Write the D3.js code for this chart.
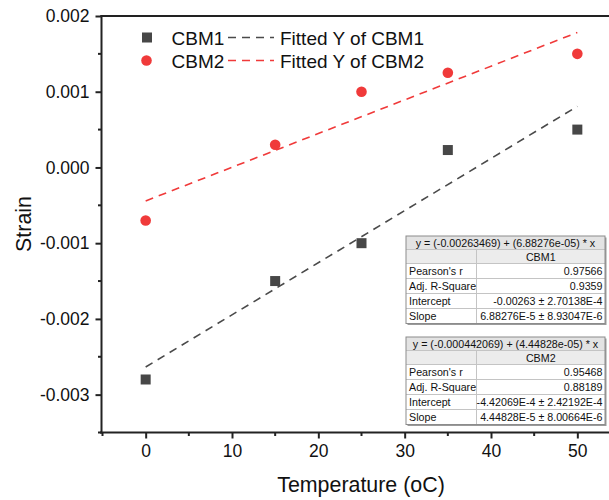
<!DOCTYPE html>
<html>
<head>
<meta charset="utf-8">
<script src="https://cdn.jsdelivr.net/npm/d3@7"></script>
<style>
  html, body { margin: 0; padding: 0; background: #fff; }
  svg { display: block; font-family: "Liberation Sans", Arial, sans-serif; }
</style>
</head>
<body>
<svg id="chart" width="609" height="500"></svg>
<script>
// ---- data ----
const temperatures = [0, 15, 25, 35, 50];
const cbm1Strain = [-0.0028, -0.0015, -0.0010, 0.00023, 0.0005];
const cbm2Strain = [-0.0007, 0.0003, 0.0010, 0.00125, 0.0015];
const seriesNames = ["CBM1", "CBM2"];
const fitIntercepts = [-0.00263469, -0.000442069];
const fitSlopes = [6.88276e-05, 4.44828e-05];
const fitRange = [0, 50];
const fitEquations = ["y = (-0.00263469) + (6.88276e-05) * x", "y = (-0.000442069) + (4.44828e-05) * x"];
const statLabels = ["Pearson's r", "Adj. R-Square", "Intercept", "Slope"];
const cbm1Stats = ["0.97566", "0.9359", "-0.00263 \u00b1 2.70138E-4", "6.88276E-5 \u00b1 8.93047E-6"];
const cbm2Stats = ["0.95468", "0.88189", "-4.42069E-4 \u00b1 2.42192E-4", "4.44828E-5 \u00b1 8.00664E-6"];
const xTicks = [0, 10, 20, 30, 40, 50];
const yTicks = [-0.003, -0.002, -0.001, 0.000, 0.001, 0.002];
const yTickLabels = ["-0.003", "-0.002", "-0.001", "0.000", "0.001", "0.002"];

// ---- styles ----
const colors = ["#474747", "#f03a3a"];
const fitColors = ["#4a4a4a", "#f03a3a"];

const svg = d3.select("#chart");
const x = d3.scaleLinear().domain([-5, 55]).range([102.5, 620.5]);
const y = d3.scaleLinear().domain([-0.0035, 0.002]).range([432.5, 16]);

// axes
const xMinor = d3.range(-5, 56, 5).filter(v => v % 10 !== 0);
const yMinor = d3.range(-0.0035, 0.00201, 0.0005).map(v => +v.toFixed(4)).filter(v => Math.abs(Math.round(v * 1000) - v * 1000) > 1e-6);

const gx = svg.append("g").attr("transform", "translate(0,432.5)");
gx.call(d3.axisBottom(x).tickValues(xTicks).tickSize(6).tickSizeOuter(0).tickFormat(d3.format("d")));
gx.select(".domain").attr("stroke", "#222").attr("stroke-width", 2).attr("d", "M100,0H609");
gx.selectAll(".tick line").attr("stroke", "#222").attr("stroke-width", 2);
gx.selectAll(".tick text").attr("font-size", 17.5).attr("fill", "#111").attr("y", 12).attr("dy", "0.71em").attr("font-family", "Liberation Sans, Arial, sans-serif");
gx.selectAll(".minor").data(xMinor).enter().append("line")
  .attr("x1", d => x(d)).attr("x2", d => x(d)).attr("y1", 0).attr("y2", 3.5)
  .attr("stroke", "#222").attr("stroke-width", 2);

const gy = svg.append("g").attr("transform", "translate(101.5,0)");
gy.call(d3.axisLeft(y).tickValues(yTicks).tickSize(6).tickSizeOuter(0).tickFormat((d, i) => yTickLabels[i]));
gy.select(".domain").attr("stroke", "#222").attr("stroke-width", 2).attr("d", "M0,15V433.5");
gy.selectAll(".tick line").attr("stroke", "#222").attr("stroke-width", 2);
gy.selectAll(".tick text").attr("font-size", 17.5).attr("fill", "#111").attr("x", -12).attr("font-family", "Liberation Sans, Arial, sans-serif");
gy.selectAll(".minor").data(yMinor).enter().append("line")
  .attr("x1", 0).attr("x2", -3.5).attr("y1", d => y(d)).attr("y2", d => y(d))
  .attr("stroke", "#222").attr("stroke-width", 2);

// top frame line
svg.append("line").attr("x1", 100.5).attr("x2", 609).attr("y1", y(0.002)).attr("y2", y(0.002))
  .attr("stroke", "#222").attr("stroke-width", 2);

// axis titles
svg.append("text").attr("x", 361).attr("y", 492).attr("text-anchor", "middle")
  .attr("font-size", 21.4).attr("fill", "#111").text("Temperature (oC)");
svg.append("text").attr("transform", "translate(31,224) rotate(-90)").attr("text-anchor", "middle")
  .attr("font-size", 21.4).attr("fill", "#111").text("Strain");

// fit lines
const seriesData = [cbm1Strain, cbm2Strain];
seriesNames.forEach((name, i) => {
  svg.append("line")
    .attr("x1", x(fitRange[0])).attr("y1", y(fitIntercepts[i] + fitSlopes[i] * fitRange[0]))
    .attr("x2", x(fitRange[1])).attr("y2", y(fitIntercepts[i] + fitSlopes[i] * fitRange[1]))
    .attr("stroke", fitColors[i]).attr("stroke-width", 1.6).attr("stroke-dasharray", "8,6");
});

// markers
svg.append("g").selectAll("rect").data(temperatures.map((t, k) => [t, cbm1Strain[k]])).enter()
  .append("rect").attr("x", d => x(d[0]) - 5).attr("y", d => y(d[1]) - 5)
  .attr("width", 10).attr("height", 10).attr("fill", colors[0]);
svg.append("g").selectAll("circle").data(temperatures.map((t, k) => [t, cbm2Strain[k]])).enter()
  .append("circle").attr("cx", d => x(d[0])).attr("cy", d => y(d[1])).attr("r", 5.3).attr("fill", colors[1]);

// legend
const legend = svg.append("g");
[0, 1].forEach(i => {
  const cy = 37.5 + i * 23;
  if (i === 0) legend.append("rect").attr("x", 142).attr("y", cy - 5).attr("width", 10).attr("height", 10).attr("fill", colors[0]);
  else legend.append("circle").attr("cx", 146.5).attr("cy", cy).attr("r", 5.3).attr("fill", colors[1]);
  legend.append("text").attr("x", 171.5).attr("y", cy + 7).attr("font-size", 19).attr("fill", "#111").text(seriesNames[i]);
  legend.append("line").attr("x1", 228).attr("x2", 274).attr("y1", cy).attr("y2", cy)
    .attr("stroke", fitColors[i]).attr("stroke-width", 1.6).attr("stroke-dasharray", "8,6");
  legend.append("text").attr("x", 280).attr("y", cy + 7).attr("font-size", 19).attr("fill", "#111").text("Fitted Y of " + seriesNames[i]);
});

// stats tables
function drawTable(top, eq, name, stats) {
  const left = 406, right = 605, mid = 476.5;
  const g = svg.append("g");
  const rowsY = [top, top + 13.5, top + 27.5];
  for (let k = 1; k <= 4; k++) rowsY.push(top + 27.5 + 15 * k);
  const bottom = rowsY[rowsY.length - 1];
  // shadow
  g.append("rect").attr("x", left + 1.5).attr("y", top + 1.5).attr("width", right - left).attr("height", bottom - top).attr("fill", "#9a9a9a");
  g.append("rect").attr("x", left).attr("y", top).attr("width", right - left).attr("height", bottom - top).attr("fill", "#fff");
  g.append("rect").attr("x", left).attr("y", rowsY[0]).attr("width", right - left).attr("height", rowsY[1] - rowsY[0]).attr("fill", "#e3e3e3");
  g.append("rect").attr("x", left).attr("y", rowsY[1]).attr("width", right - left).attr("height", rowsY[2] - rowsY[1]).attr("fill", "#ececec");
  rowsY.slice(1, -1).forEach(yy => g.append("line").attr("x1", left).attr("x2", right).attr("y1", yy).attr("y2", yy).attr("stroke", "#c4c4c4").attr("stroke-width", 1));
  g.append("line").attr("x1", mid).attr("x2", mid).attr("y1", rowsY[1]).attr("y2", bottom).attr("stroke", "#c4c4c4").attr("stroke-width", 1);
  g.append("rect").attr("x", left).attr("y", top).attr("width", right - left).attr("height", bottom - top)
    .attr("fill", "none").attr("stroke", "#8c8c8c").attr("stroke-width", 1);
  const fs = 10.7;
  g.append("text").attr("x", (left + right) / 2).attr("y", rowsY[0] + 10.8).attr("text-anchor", "middle").attr("font-size", fs).attr("fill", "#111").text(eq);
  g.append("text").attr("x", (mid + right) / 2).attr("y", rowsY[1] + 11).attr("text-anchor", "middle").attr("font-size", fs).attr("fill", "#111").text(name);
  statLabels.forEach((lab, k) => {
    const yy = rowsY[2 + k] + 11.5;
    g.append("text").attr("x", left + 3).attr("y", yy).attr("font-size", fs).attr("fill", "#111").text(lab);
    g.append("text").attr("x", right - 2.5).attr("y", yy).attr("text-anchor", "end").attr("font-size", fs).attr("fill", "#111").text(stats[k]);
  });
}
drawTable(236, fitEquations[0], seriesNames[0], cbm1Stats);
drawTable(337, fitEquations[1], seriesNames[1], cbm2Stats);
</script>
</body>
</html>
